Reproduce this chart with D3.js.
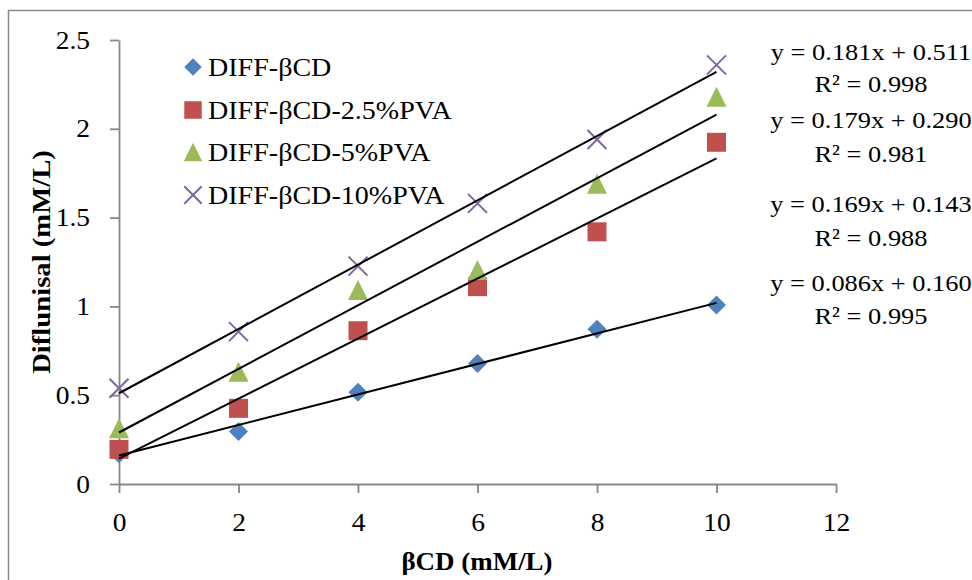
<!DOCTYPE html>
<html><head><meta charset="utf-8">
<script src="https://cdn.jsdelivr.net/npm/d3@7"></script>
<style>
body{margin:0;background:#fff}
text{font-family:"Liberation Serif","Times New Roman",serif;fill:#000}
</style>
</head><body>
<svg id="c" width="972" height="580"></svg>
<script>
// ---- data ----
const xValues = [0, 2, 4, 6, 8, 10];
const seriesNames = ["DIFF-βCD", "DIFF-βCD-2.5%PVA", "DIFF-βCD-5%PVA", "DIFF-βCD-10%PVA"];
const diffBCD   = [0.17, 0.295, 0.516, 0.679, 0.871, 1.008];
const diffPVA25 = [0.195, 0.426, 0.863, 1.111, 1.42, 1.924];
const diffPVA5  = [0.314, 0.632, 1.092, 1.205, 1.69, 2.18];
const diffPVA10 = [0.539, 0.858, 1.227, 1.58, 1.94, 2.36];
const slopes     = [0.086, 0.169, 0.179, 0.181];
const intercepts = [0.160, 0.143, 0.290, 0.511];
const r2         = [0.995, 0.988, 0.981, 0.998];
const xTicks = [0, 2, 4, 6, 8, 10, 12];
const yTicks = [0, 0.5, 1, 1.5, 2, 2.5];
const xTitle = "βCD (mM/L)";
const yTitle = "Diflunisal (mM/L)";

const seriesValues = [diffBCD, diffPVA25, diffPVA5, diffPVA10];
const colors = ["#4F81BD", "#C0504D", "#9BBB59", "#8064A2"];
const shapes = ["diamond", "square", "triangle", "cross"];

const svg = d3.select("#c");
const x = d3.scaleLinear().domain([0, 12]).range([119, 836]);
const y = d3.scaleLinear().domain([0, 2.5]).range([484, 40]);

// outer border
svg.append("rect").attr("x", 8.5).attr("y", 10.5).attr("width", 990).attr("height", 600)
  .attr("fill", "none").attr("stroke", "#8a8a8a").attr("stroke-width", 1.5);

// custom symbols
const symDiamond = {draw(ctx, size){ const r = Math.sqrt(size)/2; ctx.moveTo(0,-r); ctx.lineTo(r,0); ctx.lineTo(0,r); ctx.lineTo(-r,0); ctx.closePath(); }};
const symSquare  = {draw(ctx, size){ const r = Math.sqrt(size)/2; ctx.rect(-r,-r,2*r,2*r); }};
const symTri     = {draw(ctx, size){ const r = Math.sqrt(size)/2; ctx.moveTo(0,-r); ctx.lineTo(r,r); ctx.lineTo(-r,r); ctx.closePath(); }};
const symCross   = {draw(ctx, size){ const r = Math.sqrt(size)/2; ctx.moveTo(-r,-r); ctx.lineTo(r,r); ctx.moveTo(r,-r); ctx.lineTo(-r,r); }};
const symMap = {diamond: symDiamond, square: symSquare, triangle: symTri, cross: symCross};
const sizeMap = {diamond: 19*19, square: 19*19, triangle: 20*20, cross: 19*19};

function drawMarker(g, shape, color, cx, cy, scale){
  const p = d3.symbol().type(symMap[shape]).size(sizeMap[shape]*scale*scale)();
  const el = g.append("path").attr("d", p).attr("transform", `translate(${cx},${cy})`);
  if (shape === "cross") el.attr("fill", "none").attr("stroke", color).attr("stroke-width", 2);
  else el.attr("fill", color);
}

// axes
const fmt = d => String(d);
const yAxis = svg.append("g").attr("transform", `translate(${x(0)},0)`)
  .call(d3.axisLeft(y).tickValues(yTicks).tickFormat(fmt).tickSize(9).tickSizeOuter(0).tickPadding(20));
const xAxis = svg.append("g").attr("transform", `translate(0,${y(0)})`)
  .call(d3.axisBottom(x).tickValues(xTicks).tickFormat(fmt).tickSize(9).tickSizeOuter(0).tickPadding(20));
[xAxis, yAxis].forEach(a => {
  a.selectAll("path,line").attr("stroke", "#878787").attr("stroke-width", 1.8);
  a.selectAll("text").attr("font-size", 25).attr("font-family", "Liberation Serif").attr("fill", "#000");
});

// markers
const markG = svg.append("g");
seriesValues.forEach((vals, i) => {
  vals.forEach((v, j) => drawMarker(markG, shapes[i], colors[i], x(xValues[j]), y(v), 1));
});

// trendlines
const x0 = d3.min(xValues), x1 = d3.max(xValues);
slopes.forEach((m, i) => {
  svg.append("line")
    .attr("x1", x(x0)).attr("y1", y(intercepts[i] + m * x0))
    .attr("x2", x(x1)).attr("y2", y(intercepts[i] + m * x1))
    .attr("stroke", "#000").attr("stroke-width", 2);
});

// legend
const legY = [67, 110, 152, 195];
seriesNames.forEach((name, i) => {
  drawMarker(svg, shapes[i], colors[i], 193, legY[i], 0.92);
  svg.append("text").attr("class", "st leg").attr("x", 208).attr("y", legY[i] + 8.5)
    .attr("font-size", 25.5).text(name);
});

// trendline equations (top to bottom: series 3,2,1,0)
const eqBase = [[60, 92], [128, 162], [212, 246], [291, 324]];
[3, 2, 1, 0].forEach((si, k) => {
  svg.append("text").attr("class", "st").attr("x", 871).attr("y", eqBase[k][0])
    .attr("text-anchor", "middle").attr("font-size", 24)
    .text(`y = ${slopes[si].toFixed(3)}x + ${intercepts[si].toFixed(3)}`);
  svg.append("text").attr("class", "st").attr("x", 871).attr("y", eqBase[k][1])
    .attr("text-anchor", "middle").attr("font-size", 24)
    .text(`R² = ${r2[si].toFixed(3)}`);
});

// axis titles
svg.append("text").attr("class", "st").attr("x", 477).attr("y", 570).attr("text-anchor", "middle")
  .attr("font-size", 24.5).attr("font-weight", "bold").text(xTitle);
svg.append("text").attr("class", "st ytitle").attr("transform", "translate(50,262) rotate(-90)")
  .attr("text-anchor", "middle").attr("font-size", 24.5).attr("font-weight", "bold").text(yTitle);

// widen glyphs slightly to match the wider serif face of the original
svg.selectAll("text").each(function(){
  const w = this.getComputedTextLength();
  const f = this.classList.contains("ytitle") ? 1.17 : 1.1;
  this.setAttribute("textLength", w * f);
  this.setAttribute("lengthAdjust", "spacingAndGlyphs");
});
</script>
</body></html>
